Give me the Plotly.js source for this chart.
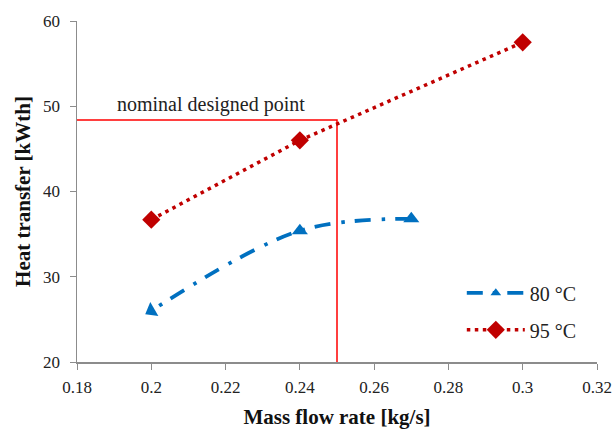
<!DOCTYPE html>
<html><head><meta charset="utf-8">
<script src="https://cdn.plot.ly/plotly-3.0.1.min.js"></script>
<style>body{margin:0}#c{width:614px;height:430px}</style></head>
<body><div id="c"></div>
<script>
const series80Name = "80 °C";
const series80X = [0.27, 0.24, 0.20];
const series80Y = [36.8, 35.4, 26.0];
const series95Name = "95 °C";
const series95X = [0.20, 0.24, 0.30];
const series95Y = [36.7, 46.0, 57.5];
const nominalX = 0.25;
const nominalY = 48.4;
const nominalLabel = "nominal designed point";
const xTitle = "Mass flow rate [kg/s]";
const yTitle = "Heat transfer [kWth]";

const F = "Liberation Serif";
const axisCol = "#8c8c8c";
const blue = '#0070c0';
const n80 = series80X.length;

const traces = [
  {x:[0.18, nominalX, nominalX], y:[nominalY, nominalY, 20], mode:'lines',
   line:{color:'#ff0000', width:1.5}, showlegend:false, hoverinfo:'skip'},
  {x:series80X, y:series80Y, name:series80Name, legendgroup:'a', mode:'lines+markers',
   line:{color:blue, width:3.8, dash:'16px,10px,3.5px,11px', shape:'spline'},
   marker:{symbol:'triangle-up', size:series80X.map((v,i)=> i===n80-1 ? 0 : 14), color:blue, opacity:1,
     line:{width:0}}},
  {x:[series80X[n80-1]], y:[series80Y[n80-1]], mode:'markers', showlegend:false, hoverinfo:'skip',
   marker:{symbol:'triangle-up', angle:240, size:14, color:blue, opacity:1, line:{width:0}}},
  {x:series95X, y:series95Y, name:series95Name, legendgroup:'b', mode:'lines+markers',
   line:{color:'#c00000', width:3.5, dash:'3.5px,4.5px'},
   marker:{symbol:'diamond', size:14, color:'#c00000'}}
];

const layout = {
  width:614, height:430,
  margin:{l:77, r:17, t:21, b:68},
  paper_bgcolor:'#fff', plot_bgcolor:'#fff',
  font:{family:F, size:16, color:'#222'},
  xaxis:{range:[0.18,0.32], dtick:0.02, tick0:0.18, showgrid:false, zeroline:false,
    showline:true, linecolor:axisCol, linewidth:1.5, ticks:'outside', tickcolor:axisCol, ticklen:6,
    ticklabelstandoff:3,
    tickfont:{family:F, size:17, color:'#222'},
    title:{text:xTitle, font:{family:F, size:21, color:'#111', weight:'bold'}, standoff:13}},
  yaxis:{range:[20,60], dtick:10, showgrid:false, zeroline:false,
    showline:true, linecolor:axisCol, linewidth:1.5, ticks:'outside', tickcolor:axisCol, ticklen:6,
    ticklabelstandoff:6,
    tickfont:{family:F, size:17, color:'#222'},
    title:{text:yTitle, font:{family:F, size:21, color:'#111', weight:'bold'}, standoff:6}},
  legend:{x:0.74, y:0.26, xanchor:'left', yanchor:'top', bgcolor:'rgba(0,0,0,0)',
    font:{family:F, size:20, color:'#222'}, itemwidth:58, tracegroupgap:8, traceorder:'grouped'},
  annotations:[{x:0.216, y:nominalY, xref:'x', yref:'y', text:nominalLabel, showarrow:false,
    yanchor:'bottom', yshift:2, font:{family:F, size:20, color:'#222'}}],
  showlegend:true
};
Plotly.newPlot('c', traces, layout, {displayModeBar:false, staticPlot:true});
</script></body></html>
